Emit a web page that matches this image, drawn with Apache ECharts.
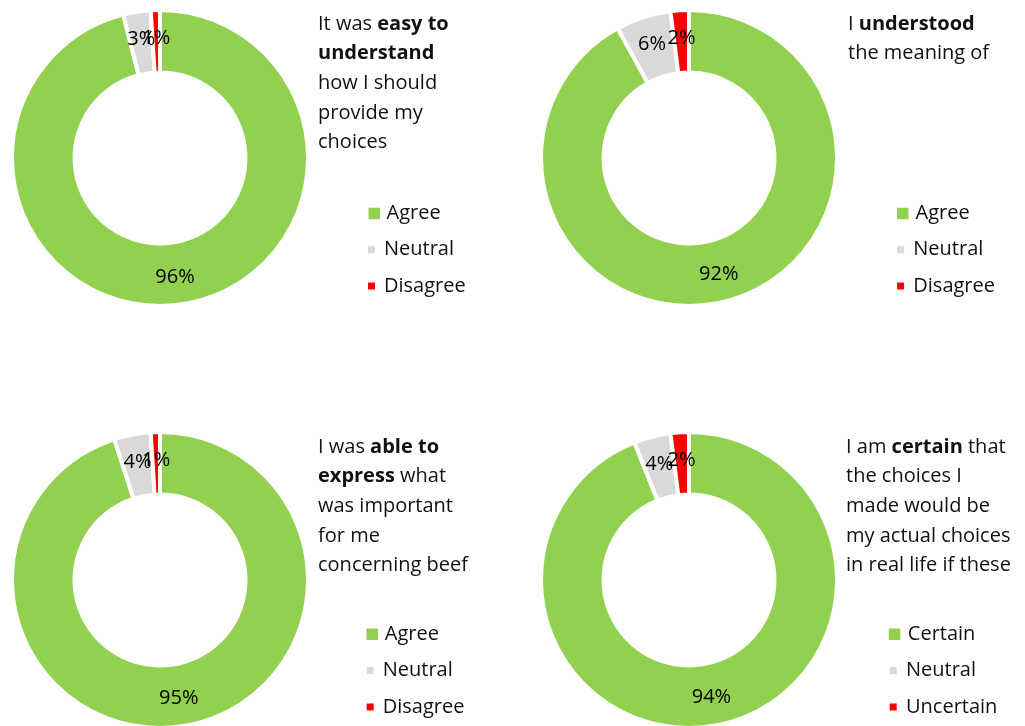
<!DOCTYPE html>
<html>
<head>
<meta charset="utf-8">
<style>
  html, body { margin: 0; padding: 0; background: #fff; }
  #chart { width: 1025px; height: 726px; }
</style>
<script src="https://cdn.jsdelivr.net/npm/echarts@6/dist/echarts.min.js"></script>
</head>
<body>
<div id="chart"></div>
<script>
// Answer categories
const agreeLabels = ['Agree', 'Neutral', 'Disagree'];
const certainLabels = ['Certain', 'Neutral', 'Uncertain'];

// Share of respondents (%) per statement
const easyValues = [96, 3, 1];
const understoodValues = [92, 6, 2];
const expressValues = [95, 4, 1];
const certainValues = [94, 4, 2];

// Statement texts ({b|...} = bold)
const easyTitle = 'It was {b|easy to}\n{b|understand}\nhow I should\nprovide my\nchoices';
const understoodTitle = 'I {b|understood}\nthe meaning of';
const expressTitle = 'I was {b|able to}\n{b|express} what\nwas important\nfor me\nconcerning beef';
const certainTitle = 'I am {b|certain} that\nthe choices I\nmade would be\nmy actual choices\nin real life if these';

const colors = ['#92D050', '#D9D9D9', '#FF0000'];
const FONT = '"Open Sans", sans-serif';
const FS = 20;
const TEXT_COLOR = '#111';

const panels = [
  { title: easyTitle, labels: agreeLabels, values: easyValues,
    center: [160, 158], titlePos: [318, 24],
    legend: { rows: [213.5, 249.7, 286], icon: [367, 369, 369], textX: 386 } },
  { title: understoodTitle, labels: agreeLabels, values: understoodValues,
    center: [689, 158], titlePos: [848, 24],
    legend: { rows: [213.5, 249.7, 286], icon: [896, 898.3, 898.3], textX: 915.5 } },
  { title: expressTitle, labels: agreeLabels, values: expressValues,
    center: [160, 580], titlePos: [318, 447],
    legend: { rows: [634.3, 670.5, 707], icon: [365.3, 367.7, 367.7], textX: 384.7 } },
  { title: certainTitle, labels: certainLabels, values: certainValues,
    center: [689, 580], titlePos: [846, 447],
    legend: { rows: [634.3, 670.5, 707], icon: [888.3, 891, 891], textX: 908.3 } }
];

const iconSizes = [13.5, 9, 9];
const LINE_H = 29.6;

const titles = [];
const legends = [];
const series = [];

panels.forEach((p, pi) => {
  titles.push({
    text: p.title,
    left: p.titlePos[0],
    top: p.titlePos[1] - LINE_H / 2,
    padding: 0,
    textStyle: {
      fontFamily: FONT, fontSize: FS, fontWeight: 'normal', color: TEXT_COLOR,
      lineHeight: LINE_H,
      rich: {
        b: { fontFamily: FONT, fontSize: FS, fontWeight: 'bold', color: TEXT_COLOR, lineHeight: LINE_H }
      }
    }
  });

  // one legend block per entry so each swatch keeps its own size
  p.labels.forEach((name, i) => {
    const s = iconSizes[i];
    const pad = Math.max(0, p.legend.textX - p.legend.icon[i] - s - 5);
    legends.push({
      orient: 'vertical',
      left: p.legend.icon[i] - pad,
      top: p.legend.rows[i] - 13,
      padding: 0,
      itemWidth: s + 2 * pad,
      itemHeight: s,
      symbolKeepAspect: true,
      icon: 'path://M0,0h10v10h-10z',
      selectedMode: false,
      data: [name],
      textStyle: { fontFamily: FONT, fontSize: FS, color: TEXT_COLOR, lineHeight: 26 }
    });
  });

  series.push({
    type: 'pie',
    name: 'panel' + pi,
    center: p.center,
    radius: [85.5, 148],
    startAngle: 90,
    clockwise: true,
    avoidLabelOverlap: false,
    silent: true,
    itemStyle: { borderColor: '#fff', borderWidth: 4 },
    label: {
      show: true,
      position: 'inside',
      formatter: '{c}%',
      color: '#000',
      fontFamily: FONT,
      fontSize: FS,
      padding: [4, 0, 0, 0]
    },
    labelLayout: { hideOverlap: false },
    labelLine: { show: false },
    data: p.labels.map((name, i) => ({
      name: name,
      value: p.values[i],
      itemStyle: { color: colors[i] }
    }))
  });
});

const chart = echarts.init(document.getElementById('chart'));
chart.setOption({
  animation: false,
  color: colors,
  title: titles,
  legend: legends,
  series: series
});
</script>
</body>
</html>
